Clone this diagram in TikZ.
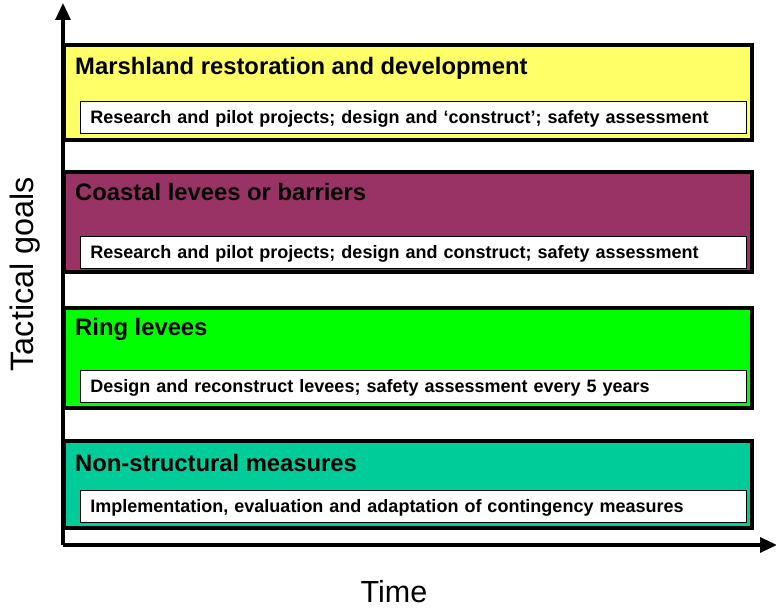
\documentclass[tikz,border=0pt]{standalone}
\usepackage{fontspec}
\setmainfont{Liberation Sans}
\usepackage{xcolor}
\usetikzlibrary{arrows.meta}
\definecolor{marsh}{HTML}{FFFF66}
\definecolor{coast}{HTML}{993366}
\definecolor{ring}{HTML}{00FF00}
\definecolor{nonstr}{HTML}{00CC99}

\begin{document}
\begin{tikzpicture}[x=1pt,y=-1pt,
  goal/.style={draw, line width=3.4pt, minimum width=688pt, inner sep=0pt},
  task/.style={draw, fill=white, line width=0.9pt, anchor=west, minimum width=666pt,
    minimum height=32pt, text width=646pt, inner xsep=10pt, align=left,
    text height=12.9pt, text depth=0pt,
    font=\fontsize{18}{20}\selectfont\bfseries},
  head/.style={anchor=west, inner sep=0pt, text height=17pt, text depth=0pt,
    font=\fontsize{23.8}{26}\selectfont\bfseries},
  axis/.style={line width=3.2pt, -{Triangle[length=17pt,width=15pt]}}]
\useasboundingbox (0,0) rectangle (776,609);
% goals, top to bottom
\node[goal, fill=marsh, minimum height=95pt] (g1) at (408,92.5) {};
\node[head] (h1) at (75,66.5) {Marshland restoration and development};
\node[task] (t1) at (80,117) {Research and pilot projects; design and ‘construct’; safety assessment};
\node[goal, fill=coast, minimum height=100pt] (g2) at (408,222) {};
\node[head] (h2) at (75,192) {Coastal levees or barriers};
\node[task] (t2) at (80,252.5) {Research and pilot projects; design and construct; safety assessment};
\node[goal, fill=ring, minimum height=100pt] (g3) at (408,358) {};
\node[head] (h3) at (75,327) {Ring levees};
\node[task] (t3) at (80,386) {Design and reconstruct levees; safety assessment every 5 years};
\node[goal, fill=nonstr, minimum height=87pt] (g4) at (408,484.5) {};
\node[head] (h4) at (75,463) {Non-structural measures};
\node[task] (t4) at (80,506) {Implementation, evaluation and adaptation of contingency measures};
% axes
\coordinate (o) at (63,545);
\coordinate (ytop) at (63,3);
\coordinate (xend) at (777,545);
\draw[axis] (o) -- (ytop);
\draw[axis] (o) -- (xend);
\node[rotate=90, font=\fontsize{32.4}{34}\selectfont] (ylab) at (25,274) {Tactical goals};
\node[font=\fontsize{30.5}{32}\selectfont] (xlab) at (394,592) {Time};
\end{tikzpicture}
\end{document}
